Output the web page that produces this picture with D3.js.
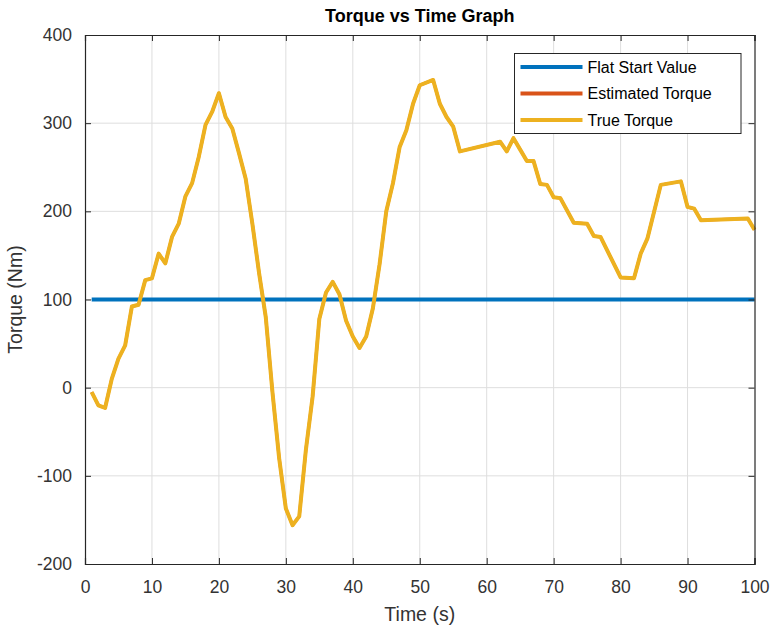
<!DOCTYPE html>
<html>
<head>
<meta charset="utf-8">
<script src="https://cdn.jsdelivr.net/npm/d3@7"></script>
<style>
  html, body { margin: 0; padding: 0; background: #ffffff; }
  svg { display: block; font-family: Arial, "Liberation Sans", Helvetica, sans-serif; }
</style>
</head>
<body>
<svg id="chart" width="773" height="630"></svg>
<script>
// Time samples (s) and measured torque (Nm)
const timeValues = [1, 2, 3, 4, 5, 6, 7, 8, 9, 10, 11, 12, 13, 14, 15, 16, 17, 18, 19, 20,
  21, 22, 23, 24, 25, 26, 27, 28, 29, 30, 31, 32, 33, 34, 35, 36, 37, 38, 39, 40,
  41, 42, 43, 44, 45, 46, 47, 48, 49, 50, 52, 53, 54, 55, 56, 62, 63, 64, 65, 66,
  67, 68, 69, 70, 71, 73, 75, 76, 77, 80, 82, 83, 84, 86, 89, 90, 91, 92, 99, 100];
const trueTorque = [-5, -20, -23, 10, 33, 48, 92, 94, 122, 124, 152, 141, 171, 186, 217, 232, 262, 298, 313, 334,
  307, 294, 266, 237, 186, 130, 80, -5, -80, -137, -156, -146, -70, -10, 78, 108, 120, 106, 76, 58,
  45, 58, 90, 140, 200, 232, 273, 292, 322, 343, 349, 322, 307, 296, 268, 279, 268, 283, 270, 257,
  257, 231, 230, 216, 215, 187, 186, 172, 171, 125, 124, 152, 169, 230, 234, 205, 203, 190, 192, 179];
// Estimate coincides with the true torque
const estimatedTorque = trueTorque.slice();
// Flat start value held over the whole run
const flatTimes = [1, 100];
const flatValues = [100, 100];

const seriesNames = ["Flat Start Value", "Estimated Torque", "True Torque"];
const seriesColors = ["#0072BD", "#D95319", "#EDB120"];
const xTicks = [0, 10, 20, 30, 40, 50, 60, 70, 80, 90, 100];
const yTicks = [-200, -100, 0, 100, 200, 300, 400];

const svg = d3.select("#chart");
const W = 773, H = 630;
const margin = { left: 85, right: W - 754.5, top: 35, bottom: H - 564 };
const x = d3.scaleLinear().domain([0, 100]).range([margin.left, W - margin.right]);
const y = d3.scaleLinear().domain([-200, 400]).range([H - margin.bottom, margin.top]);

const axisColor = "#262626";
const labelColor = "#333333";
const gridColor = "#dedede";

// grid
const grid = svg.append("g");
grid.selectAll("line.gx").data(xTicks.slice(1, -1)).join("line")
  .attr("x1", d => x(d)).attr("x2", d => x(d))
  .attr("y1", y(-200)).attr("y2", y(400))
  .attr("stroke", gridColor).attr("stroke-width", 1);
grid.selectAll("line.gy").data(yTicks.slice(1, -1)).join("line")
  .attr("y1", d => y(d)).attr("y2", d => y(d))
  .attr("x1", x(0)).attr("x2", x(100))
  .attr("stroke", gridColor).attr("stroke-width", 1);

// series (the estimate is drawn slightly thinner so it sits under the true torque)
const pts = (xs, ys) => xs.map((t, i) => [t, ys[i]]);
const line = d3.line().x(d => x(d[0])).y(d => y(d[1]));
const seriesData = [pts(flatTimes, flatValues), pts(timeValues, estimatedTorque), pts(timeValues, trueTorque)];
const seriesWidths = [4, 3, 4];
svg.append("g").selectAll("path").data(seriesData).join("path")
  .attr("d", line)
  .attr("fill", "none")
  .attr("stroke", (d, i) => seriesColors[i])
  .attr("stroke-width", (d, i) => seriesWidths[i])
  .attr("stroke-linejoin", "round");

// axes (ticks inward on all four sides)
const tickLen = 6;
const fontSize = 17.5;
const fmt = d => String(d);
const bottomAxis = d3.axisBottom(x).tickValues(xTicks).tickSize(-tickLen).tickPadding(17).tickFormat(fmt);
const topAxis = d3.axisTop(x).tickValues(xTicks).tickSize(-tickLen).tickFormat("");
const leftAxis = d3.axisLeft(y).tickValues(yTicks).tickSize(-tickLen).tickPadding(13).tickFormat(fmt);
const rightAxis = d3.axisRight(y).tickValues(yTicks).tickSize(-tickLen).tickFormat("");

function styleAxis(g) {
  g.select(".domain").attr("stroke", axisColor).attr("stroke-width", 1.2);
  g.selectAll(".tick line").attr("stroke", axisColor).attr("stroke-width", 1);
  g.selectAll(".tick text").attr("fill", labelColor).style("font-size", fontSize + "px");
  g.attr("font-family", null);
}
svg.append("g").attr("transform", `translate(0,${y(-200)})`).call(bottomAxis).call(styleAxis);
svg.append("g").attr("transform", `translate(0,${y(400)})`).call(topAxis).call(styleAxis);
svg.append("g").attr("transform", `translate(${x(0)},0)`).call(leftAxis).call(styleAxis);
svg.append("g").attr("transform", `translate(${x(100)},0)`).call(rightAxis).call(styleAxis);

// title and labels
svg.append("text").attr("x", (x(0) + x(100)) / 2).attr("y", 22)
  .attr("text-anchor", "middle").attr("font-weight", "bold").attr("font-size", 18)
  .attr("fill", "#000").text("Torque vs Time Graph");
svg.append("text").attr("x", (x(0) + x(100)) / 2).attr("y", 621)
  .attr("text-anchor", "middle").attr("font-size", 19.5)
  .attr("fill", labelColor).text("Time (s)");
svg.append("text").attr("transform", `translate(22,${(y(-200) + y(400)) / 2}) rotate(-90)`)
  .attr("text-anchor", "middle").attr("font-size", 19.5)
  .attr("fill", labelColor).text("Torque (Nm)");

// legend
const lg = svg.append("g").attr("transform", "translate(514.5,53.5)");
lg.append("rect").attr("width", 226.5).attr("height", 80)
  .attr("fill", "#fff").attr("stroke", axisColor).attr("stroke-width", 1);
seriesNames.forEach((name, i) => {
  const cy = 13.5 + i * 26.5;
  lg.append("line").attr("x1", 6).attr("x2", 68).attr("y1", cy).attr("y2", cy)
    .attr("stroke", seriesColors[i]).attr("stroke-width", 4);
  lg.append("text").attr("x", 73).attr("y", cy).attr("dy", "0.35em")
    .attr("font-size", 16).attr("fill", "#000").text(name);
});
</script>
</body>
</html>
